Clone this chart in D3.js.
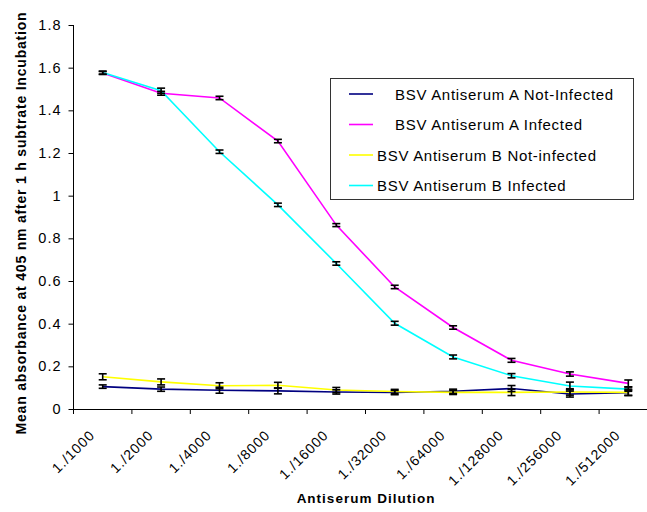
<!DOCTYPE html>
<html>
<head>
<meta charset="utf-8">
<script src="https://cdn.jsdelivr.net/npm/d3@7"></script>
<style>
  body { margin: 0; background: #fff; }
  svg text { font-family: "Liberation Sans", Arial, sans-serif; fill: #000; }
</style>
</head>
<body>
<div id="graph"></div>
<script>
// dilutions on x axis
let dilutions = ["1./1000", "1./2000", "1./4000", "1./8000", "1./16000", "1./32000",
                 "1./64000", "1./128000", "1./256000", "1./512000"];

// mean absorbance for each serie
let aNotInfected = [0.105, 0.093, 0.088, 0.085, 0.080, 0.077, 0.083, 0.096, 0.070, 0.076];
let aInfected    = [1.575, 1.480, 1.458, 1.256, 0.862, 0.572, 0.382, 0.228, 0.164, 0.120];
let bNotInfected = [0.151, 0.127, 0.109, 0.111, 0.089, 0.082, 0.078, 0.078, 0.080, 0.078];
let bInfected    = [1.577, 1.492, 1.206, 0.957, 0.682, 0.402, 0.244, 0.156, 0.108, 0.093];

// error bars (+/-)
let errANot = [0.008, 0.010, 0.014, 0.014, 0.010, 0.010, 0.010, 0.014, 0.014, 0.012];
let errAInf = [0.007, 0.009, 0.008, 0.008, 0.007, 0.008, 0.008, 0.009, 0.010, 0.016];
let errBNot = [0.014, 0.014, 0.014, 0.014, 0.012, 0.010, 0.010, 0.015, 0.015, 0.015];
let errBInf = [0.007, 0.012, 0.008, 0.008, 0.008, 0.009, 0.009, 0.010, 0.018, 0.010];

let yTicks = [0, 0.2, 0.4, 0.6, 0.8, 1, 1.2, 1.4, 1.6, 1.8];

let series = [
  { name: "BSV Antiserum A Not-Infected", values: aNotInfected, err: errANot, color: "#000080" },
  { name: "BSV Antiserum A Infected",     values: aInfected,    err: errAInf, color: "#FF00FF" },
  { name: "BSV Antiserum B Not-infected", values: bNotInfected, err: errBNot, color: "#FFFF00" },
  { name: "BSV Antiserum B Infected",     values: bInfected,    err: errBInf, color: "#00FFFF" }
];

let largeur = 647, hauteur = 512;
let gauche = 73.5, haut = 25, bas = 409;

let svg = d3.select("#graph").append("svg")
    .attr("width", largeur)
    .attr("height", hauteur);

// scales : the plot runs past the right edge of the picture
let echelleX = d3.scaleBand()
    .domain(dilutions)
    .range([gauche, gauche + 58.4 * dilutions.length]);

let echelleY = d3.scaleLinear()
    .domain([0, 1.8])
    .range([bas, haut]);

// y axis
let axeY = d3.axisLeft(echelleY)
    .tickValues(yTicks)
    .tickSize(5)
    .tickPadding(7)
    .tickFormat(d => String(+d.toFixed(1)));

let gY = svg.append("g")
    .attr("transform", "translate(" + gauche + ",0)")
    .call(axeY);
gY.select(".domain").attr("stroke", "#000").attr("d", "M0," + haut + "V" + bas);
gY.selectAll(".tick line").attr("stroke", "#000");
gY.selectAll(".tick text")
    .style("font-size", "14.5px")
    .style("letter-spacing", "1px")
    .attr("fill", "#000");

// x axis
let axeX = d3.axisBottom(echelleX)
    .tickSize(5)
    .tickSizeOuter(0)
    .tickFormat("");

let gX = svg.append("g")
    .attr("transform", "translate(0," + bas + ")")
    .call(axeX);
gX.select(".domain").attr("stroke", "#000");
// ticks are between categories
gX.selectAll(".tick line")
    .attr("stroke", "#000")
    .attr("x1", echelleX.bandwidth() / 2)
    .attr("x2", echelleX.bandwidth() / 2);
gX.append("line")
    .attr("x1", gauche).attr("x2", gauche)
    .attr("y1", 0).attr("y2", 5)
    .attr("stroke", "#000");

// rotated labels
svg.append("g").selectAll("text")
    .data(dilutions)
    .enter()
    .append("text")
    .attr("transform", d => "translate(" + (echelleX(d) + echelleX.bandwidth() / 2 - 7) + ",436) rotate(-45)")
    .attr("text-anchor", "end")
    .style("font-size", "14px")
    .style("letter-spacing", "1px")
    .text(d => d);

// axis titles
svg.append("text")
    .attr("transform", "translate(26,223) rotate(-90)")
    .attr("text-anchor", "middle")
    .style("font-size", "14px")
    .style("font-weight", "bold")
    .style("letter-spacing", "0.8px")
    .text("Mean absorbance at 405 nm after 1 h subtrate Incubation");

svg.append("text")
    .attr("x", 366)
    .attr("y", 503)
    .attr("text-anchor", "middle")
    .style("font-size", "13.5px")
    .style("font-weight", "bold")
    .style("letter-spacing", "1px")
    .text("Antiserum Dilution");

// lines
let ligne = d3.line()
    .x((d, i) => echelleX(dilutions[i]) + echelleX.bandwidth() / 2)
    .y(d => echelleY(d));

svg.selectAll(".serie")
    .data(series)
    .enter()
    .append("path")
    .attr("class", "serie")
    .attr("fill", "none")
    .attr("stroke", d => d.color)
    .attr("stroke-width", 1.6)
    .attr("d", d => ligne(d.values));

// error bars
series.forEach(s => {
  let g = svg.append("g").attr("stroke", "#000").attr("stroke-width", 1.6);
  s.values.forEach((v, i) => {
    let cx = echelleX(dilutions[i]) + echelleX.bandwidth() / 2;
    let y1 = echelleY(v + s.err[i]), y2 = echelleY(v - s.err[i]);
    g.append("line").attr("x1", cx).attr("x2", cx).attr("y1", y1).attr("y2", y2);
    g.append("line").attr("x1", cx - 4).attr("x2", cx + 4).attr("y1", y1).attr("y2", y1);
    g.append("line").attr("x1", cx - 4).attr("x2", cx + 4).attr("y1", y2).attr("y2", y2);
  });
});

// legend
let legende = svg.append("g");
legende.append("rect")
    .attr("x", 330.5).attr("y", 78.5)
    .attr("width", 303).attr("height", 121)
    .attr("fill", "#fff")
    .attr("stroke", "#333");

let textX = [395, 395, 377, 377];
series.forEach((s, i) => {
  let y = 94 + i * 30.5;
  legende.append("line")
      .attr("x1", 349).attr("x2", 373)
      .attr("y1", y).attr("y2", y)
      .attr("stroke", s.color)
      .attr("stroke-width", 1.6);
  legende.append("text")
      .attr("x", textX[i])
      .attr("y", y + 5.5)
      .style("font-size", "15px")
      .style("letter-spacing", "0.7px")
      .text(s.name);
});
</script>
</body>
</html>
